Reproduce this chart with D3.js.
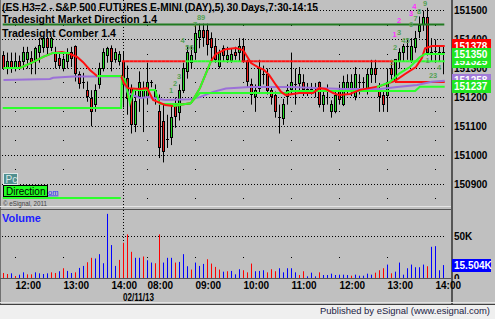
<!DOCTYPE html>
<html><head><meta charset="utf-8">
<script src="https://cdn.jsdelivr.net/npm/d3@7/dist/d3.min.js"></script>
<style>
html,body{margin:0;padding:0;background:#c0c0c0;overflow:hidden}
svg{display:block}
text{font-family:"Liberation Sans",Arial,sans-serif}
</style></head><body>
<svg id="chart" width="495" height="319"></svg>
<script>
// ---------------- data ----------------
const opens=[151345,151300,151325,151300,151325,151325,151330,151335,151330,151355,
151375,151405,151375,151355,151335,151300,151325,151355,151375,151280,
151250,151225,151195,151175,151245,151300,151345,151370,151330,151325,
151325,151265,151230,151105,151200,151200,151200,151250,151200,151150,
151115,151050,151060,151175,151150,151225,151290,151320,151355,151405,
151430,151430,151405,151375,151305,151370,151330,151330,151355,151355,
151375,151325,151245,151205,151230,151280,151280,151225,151205,151130,
151125,151205,151225,151245,151250,151250,151225,151228,151230,151250,
151175,151225,151150,151150,151225,151175,151225,151225,151205,151250,
151250,151225,151280,151300,151225,151205,151205,151300,151255,151325,
151355,151375,151325,151375,151430,151450,151475,151355,151358,151355,151355];
const highs=[151360,151355,151355,151355,151345,151375,151375,151360,151375,151405,
151410,151410,151410,151375,151355,151345,151370,151375,151380,151290,
151285,151255,151225,151245,151320,151370,151375,151380,151370,151360,
151360,151310,151245,151230,151290,151255,151320,151260,151245,151210,
151175,151140,151175,151200,151245,151320,151380,151380,151455,151455,
151455,151455,151425,151405,151365,151380,151375,151370,151375,151405,
151405,151330,151265,151245,151330,151310,151300,151235,151220,151175,
151195,151245,151355,151300,151305,151280,151250,151250,151250,151255,
151225,151245,151190,151220,151245,151275,151280,151280,151305,151280,
151270,151300,151330,151330,151250,151225,151300,151330,151330,151370,
151385,151405,151405,151430,151480,151500,151510,151405,151400,151380,151375];
const lows=[151295,151280,151285,151290,151295,151295,151300,151280,151280,151320,
151355,151345,151360,151300,151300,151290,151300,151305,151255,151230,
151230,151185,151100,151150,151230,151290,151320,151290,151320,151310,
151165,151140,151075,151080,151150,151080,151175,151235,151175,150990,
150975,151025,151035,151095,151120,151215,151265,151300,151330,151370,
151375,151345,151330,151320,151300,151325,151320,151320,151330,151325,
151320,151235,151175,151150,151215,151245,151210,151175,151130,151075,
151105,151175,151210,151175,151220,151205,151205,151210,151200,151165,
151150,151175,151130,151145,151175,151170,151210,151205,151190,151210,
151230,151210,151250,151250,151150,151150,151150,151250,151250,151300,
151325,151330,151320,151355,151405,151430,151345,151325,151320,151325,151280];
const closes=[151300,151325,151300,151325,151300,151355,151355,151320,151370,151380,
151405,151375,151405,151325,151310,151330,151355,151335,151280,151250,
151250,151205,151150,151225,151300,151355,151370,151325,151355,151350,
151245,151195,151105,151185,151250,151225,151250,151248,151225,151025,
151010,151055,151130,151135,151225,151300,151355,151345,151420,151430,
151405,151380,151375,151330,151355,151345,151345,151350,151345,151375,
151325,151255,151210,151225,151300,151275,151225,151205,151150,151125,
151175,151225,151250,151245,151280,151225,151228,151225,151232,151175,
151205,151225,151175,151205,151195,151250,151250,151250,151280,151250,
151248,151280,151300,151280,151205,151175,151250,151280,151330,151355,
151375,151372,151375,151405,151450,151475,151355,151352,151355,151355,151350];

const volumes=[6000,4800,5600,2400,4000,6800,4400,4400,6800,5600,
4800,5600,6800,6000,8100,11700,8500,6000,6800,12100,
14500,18900,24200,23400,28600,17700,76900,39500,14500,21700,
42300,52300,31400,24200,24200,25800,21300,18500,17700,52300,
18500,24200,24200,18500,19300,28600,14100,10100,18500,14500,
16900,22500,17300,13300,10100,7600,8100,
8500,4400,10500,9300,6800,17300,8100,8500,9300,6800,
10500,8100,11700,6800,11700,11700,6800,3600,8100,2000,
6400,2000,6800,3600,3600,5200,3600,4000,4000,3600,
2800,4000,2800,2800,5200,4000,6400,9300,11700,16100,
5600,7600,18500,4000,11700,16100,12900,12900,16100,14100,
37400,38200,9300,15504];
const volumeUp=[0,0,1,0,1,1,0,0,1,1, 1,1,0,0,1,0,1,1,0,1, 1,0,0,1,1,1,1,1,1,0,
0,0,0,1,1,0,1,1,0,0, 1,1,1,0,1,1,1,0,1,1, 1,0,0,0,0,1,0,
1,1,1,0,0,0,1,1,1,0, 0,0,1,1,1,1,1,0,0,1, 1,1,0,1,1,1,1,1,1,1,
0,1,1,1,1,1,0,0,0,1, 0,1,1,1,1,1,1,1,1,0, 1,1,1,1];

const timeLabels=["12:00","13:00","14:00","08:00","09:00","10:00","11:00","12:00","13:00","14:00"];
const timeTickBars=[3,15,27,36,48,60,72,84,96,108];
const dateLabel="02/11/13";
const sessionStartBar=30;
const gridDotBars=[3,15,36,48,60,72,84,96,108];
const priceTicks=[151500,151400,151300,151200,151100,151000,150900];
const priceHalfTicks=[151450,151350,151250,151150,151050,150950,150850];
const volumeTicks=[0,50000];

// indicator lines: [bar, price]
const maRed=[[0,151302],[4.1,151302],[7.4,151322],[9.9,151340],[12.4,151354],[14.6,151357],[16.6,151350],[18.4,151340],[19.9,151322],[21.6,151295],[23.4,151274],[26.6,151274],[29.4,151274],[30.1,151250],[31.1,151232],[34.1,151229],[35.9,151232],[37.4,151191],[40.4,151174],[42.4,151170],[44.1,151174],[46.9,151181],[49.1,151232],[51.9,151326],[53.1,151350],[55.6,151367],[58.1,151371],[59.9,151364],[61.9,151319],[63.6,151305],[65.1,151295],[66.4,151278],[68.1,151243],[69.4,151219],[70.6,151208],[73.9,151215],[77.4,151215],[78.9,151232],[80.6,151229],[82.4,151215],[83.9,151208],[86.6,151212],[89.1,151226],[94.1,151239],[97.9,151257],[100.4,151281],[103.1,151305],[104.6,151336],[105.4,151370],[107.1,151378],[110.3,151378]];
const maGreenA=[[0,151302],[4.1,151302],[7.4,151322],[9.9,151340],[12.4,151354],[16.6,151354]];
const maGreenB=[[23.4,151274],[29.4,151274]];
const maGreenC=[[42.4,151170],[44.1,151174],[46.9,151181],[49.1,151232],[51.9,151326]];
const maGreenD=[[93.4,151236],[96.6,151253],[99.1,151284],[101.6,151305],[104.1,151340],[105.4,151350],[110.3,151350]];
const purpleLine=[[0,151260],[11.6,151264],[12.4,151268],[17.4,151272],[29.4,151272],[30.1,151253],[31.1,151215],[34.1,151198],[36.1,151201],[40.4,151191],[46.6,151194],[49.1,151201],[52.4,151219],[55.6,151231],[61.6,151236],[71.6,151236],[85.1,151229],[94.1,151229],[98.4,151236],[103.4,151243],[107.1,151254],[110.3,151258]];
const stepGreen=[[-0.2,151163],[29.4,151163],[29.6,151271],[30.4,151260],[31.6,151181],[32.6,151226],[37.9,151226],[39.1,151177],[46.6,151177],[49.1,151215],[70.6,151215],[72.1,151222],[102.9,151222],[104.1,151237],[110.3,151237]];
const prevCloseLevel=151325, prevCloseFrom=29.6, prevCloseTo=110.3;
const highLevel=151452, highFrom=-0.2, highTo=110.2;
const openLevel=151253, openFrom=97.9, openTo=110.3;
const lowerLevel=150852, lowerFrom=-0.2, lowerTo=29.3;
const lastVolume=15504;

const countLabels=[["1",41.9,151226,"g"],["2",42.9,151250,"g"],["3",43.9,151274,"g"],["4",44.8,151397,"g"],["56",46.5,151374,"g"],["7",47.9,151453,"g"],["89",49.4,151478,"g"],
["1",97.1,151322,"o"],["1",97.8,151418,"m"],["2",97.9,151374,"g"],["3",98.9,151426,"g"],["2",98.9,151468,"m"],["45",100.5,151397,"g"],["6",101.9,151452,"g"],["3",101.9,151491,"m"],["7",103,151475,"g"],["4",102.7,151516,"m"],["8",103.9,151499,"g"],["9",105.4,151525,"g"],["1",106,151329,"g"],["23",107.4,151277,"g"],["4",108.9,151304,"g"]];

// ---------------- drawing ----------------
const C={bg:"#c0c0c0",up:"#22dd22",dn:"#ee1c1c",line:"#2cff2c",red:"#ff1010",purple:"#9b70d8",dkgreen:"#217a21",blue:"#0000ff",volRed:"#ff0000"};
const svg=d3.select("#chart");
svg.append("rect").attr("width",495).attr("height",319).attr("fill",C.bg);

const x=d3.scaleLinear().domain([0,110]).range([3.5,443.5]);
const y=d3.scaleLinear().domain([150900,151500]).range([184.1,10.7]);
const yv=d3.scaleLinear().domain([0,50000]).range([278,236.3]);
const px=v=>Math.floor(v)+0.5;

const defs=svg.append("defs");
defs.append("clipPath").attr("id","cp").append("rect").attr("x",1).attr("y",0).attr("width",450).attr("height",206);
defs.append("clipPath").attr("id","cv").append("rect").attr("x",1).attr("y",210).attr("width",450).attr("height",68);
defs.append("clipPath").attr("id","cva").append("rect").attr("x",-2).attr("y",210).attr("width",45).attr("height",69);

// grid
const grid=svg.append("g");
grid.selectAll("line.pg").data(priceTicks).join("line").attr("x1",2).attr("x2",446)
 .attr("y1",d=>px(y(d))).attr("y2",d=>px(y(d))).attr("stroke","#000").attr("stroke-dasharray","1,2");
gridDotBars.forEach(b=>{
  priceHalfTicks.forEach(p=>grid.append("rect").attr("x",Math.floor(x(b))).attr("y",Math.floor(y(p))).attr("width",1).attr("height",1).attr("fill","#000"));
  grid.append("rect").attr("x",Math.floor(x(b))).attr("y",Math.floor(yv(25000))).attr("width",1).attr("height",1).attr("fill","#000");
});
grid.append("line").attr("x1",2).attr("x2",446).attr("y1",px(yv(50000))).attr("y2",px(yv(50000))).attr("stroke","#000").attr("stroke-dasharray","1,2");
grid.append("line").attr("x1",x(sessionStartBar)).attr("x2",x(sessionStartBar)).attr("y1",0).attr("y2",278).attr("stroke","#000").attr("stroke-dasharray","1,2");

// candles
const pg=svg.append("g").attr("clip-path","url(#cp)");
const idx=d3.range(opens.length);
pg.selectAll("line.w").data(idx).join("line").attr("x1",i=>x(i)).attr("x2",i=>x(i))
 .attr("y1",i=>y(highs[i])).attr("y2",i=>y(lows[i])).attr("stroke","#000").attr("stroke-width",1);
idx.forEach(i=>{
  const t=y(Math.max(opens[i],closes[i])), b=y(Math.min(opens[i],closes[i]));
  if(b-t<1.5){
    pg.append("line").attr("x1",x(i)-1.5).attr("x2",x(i)+1.5).attr("y1",px(t)).attr("y2",px(t)).attr("stroke","#000");
  } else {
    pg.append("rect").attr("x",x(i)-1).attr("width",2).attr("y",px(t)).attr("height",Math.max(1,Math.round(b-t)))
      .attr("fill",closes[i]>=opens[i]?C.up:C.dn).attr("stroke","#000").attr("stroke-width",1);
  }
});

// indicator lines
const ln=d3.line().x(d=>x(d[0])).y(d=>y(d[1]));
const lg=svg.append("g").attr("clip-path","url(#cp)").attr("fill","none").attr("stroke-width",2);
lg.append("path").attr("d",ln([[highFrom,highLevel],[highTo,highLevel]])).attr("stroke",C.dkgreen);
lg.append("path").attr("d",ln([[lowerFrom,lowerLevel],[lowerTo,lowerLevel]])).attr("stroke",C.line);
for(let i=Math.ceil(prevCloseFrom);i<=110;i++){
  const a=Math.max(prevCloseFrom,i-0.5), b=Math.min(prevCloseTo,i+0.5);
  lg.append("path").attr("d",ln([[a,prevCloseLevel],[b,prevCloseLevel]])).attr("stroke",closes[i]>prevCloseLevel?C.line:C.red);
}
lg.append("path").attr("d",ln([[openFrom,openLevel],[openTo,openLevel]])).attr("stroke",C.red);
lg.append("path").attr("d",ln(purpleLine)).attr("stroke",C.purple);
lg.append("path").attr("d",ln(stepGreen)).attr("stroke",C.line);
lg.append("path").attr("d",ln(maRed)).attr("stroke",C.red);
[maGreenA,maGreenB,maGreenC,maGreenD].forEach(s=>lg.append("path").attr("d",ln(s)).attr("stroke",C.line));

// count labels
const cc={g:"#55a055",m:"#ff30ff",o:"#a88a2a"};
svg.append("g").selectAll("text").data(countLabels).join("text")
 .attr("x",d=>x(d[1])).attr("y",d=>y(d[2])).attr("dy","0.35em").attr("text-anchor","middle")
 .attr("font-size",7.5).attr("font-weight","bold").attr("fill",d=>cc[d[3]]).text(d=>d[0]);

// volume
const vg=svg.append("g").attr("clip-path","url(#cv)");
vg.selectAll("rect").data(idx).join("rect").attr("x",i=>Math.floor(x(i))).attr("width",1)
 .attr("y",i=>yv(volumes[i])).attr("height",i=>yv(0)-yv(volumes[i]))
 .attr("fill",i=>volumeUp[i]?C.blue:C.volRed);

// frames
const fr=svg.append("g");
fr.append("line").attr("x1",0.5).attr("x2",0.5).attr("y1",0).attr("y2",304).attr("stroke","#707070");
fr.append("line").attr("x1",0).attr("x2",452).attr("y1",206.5).attr("y2",206.5).attr("stroke","#e4e4e4");
fr.append("line").attr("x1",0).attr("x2",452).attr("y1",209.5).attr("y2",209.5).attr("stroke","#555");
fr.append("line").attr("x1",0).attr("x2",452).attr("y1",278.5).attr("y2",278.5).attr("stroke","#555");
fr.append("rect").attr("x",451).attr("y",0).attr("width",2).attr("height",305).attr("fill","#555");
fr.append("rect").attr("x",0).attr("y",305).attr("width",495).attr("height",14).attr("fill","#efefef");
fr.append("line").attr("x1",0).attr("x2",495).attr("y1",302.5).attr("y2",302.5).attr("stroke","#e4e4e4");
fr.append("line").attr("x1",0).attr("x2",495).attr("y1",304.5).attr("y2",304.5).attr("stroke","#404040");

// axes
const ya=svg.append("g").attr("transform","translate(452,0)")
 .call(d3.axisRight(y).tickValues(priceTicks).tickSize(0).tickPadding(2).tickFormat(d3.format("d")));
ya.select(".domain").remove();
ya.selectAll("text").attr("font-size",10).attr("font-weight","bold").attr("font-family","Liberation Sans, Arial").attr("fill","#000");
const va=svg.append("g").attr("transform","translate(452,0)").attr("clip-path","url(#cva)")
 .call(d3.axisRight(yv).tickValues(volumeTicks).tickSize(0).tickPadding(2).tickFormat(d=>d?d/1000+"K":"0"));
va.select(".domain").remove();
va.selectAll("text").attr("font-size",10).attr("font-weight","bold").attr("font-family","Liberation Sans, Arial").attr("fill","#000");
const xa=svg.append("g").attr("transform","translate(0,279)")
 .call(d3.axisBottom(x).tickValues(timeTickBars).tickSize(0).tickFormat((d,i)=>timeLabels[i]));
xa.select(".domain").remove();
xa.selectAll("text").attr("text-anchor","start").attr("x",-0.5).attr("y",9.5).attr("dy",0)
 .attr("font-size",10).attr("font-weight","bold").attr("font-family","Liberation Sans, Arial").attr("fill","#000");
svg.append("text").attr("x",x(sessionStartBar)-0.5).attr("y",301).attr("font-size",10).attr("font-weight","bold")
 .attr("textLength",31).attr("lengthAdjust","spacingAndGlyphs").text(dateLabel);

// last-value tags
function tag(v,scale,fill,label){
  const yy=scale(v);
  svg.append("rect").attr("x",452).attr("y",Math.round(yy-6.5)).attr("width",39).attr("height",13).attr("fill",fill);
  svg.append("text").attr("x",454).attr("y",yy).attr("dy","0.36em").attr("font-size",10).attr("font-weight","bold").attr("fill","#fff").text(label);
}
const lastOf=a=>a[a.length-1][1];
tag(prevCloseLevel,y,"#22e622",String(prevCloseLevel));
tag(lastOf(maRed),y,"#ff0000",String(lastOf(maRed)));
tag(lastOf(maGreenD),y,"#22e622",String(lastOf(maGreenD)));
tag(lastOf(purpleLine),y,"#a07ad8",String(lastOf(purpleLine)));
tag(lastOf(stepGreen),y,"#22e622",String(lastOf(stepGreen)));
tag(lastVolume,yv,"#0000ff",d3.format(".3f")(lastVolume/1000)+"K");

// texts
const tx=svg.append("g");
tx.append("text").attr("x",2).attr("y",11).attr("font-size",11).attr("font-weight","bold").attr("textLength",316).attr("lengthAdjust","spacingAndGlyphs")
 .text("(ES H3=2 - S&P 500 FUTURES E-MINI (DAY),5) 30 Days,7:30-14:15");
tx.append("text").attr("x",2).attr("y",23).attr("font-size",10.5).attr("font-weight","bold").attr("textLength",155).attr("lengthAdjust","spacingAndGlyphs")
 .text("Tradesight Market Direction 1.4");
tx.append("text").attr("x",2).attr("y",37).attr("font-size",10.5).attr("font-weight","bold").attr("textLength",114).attr("lengthAdjust","spacingAndGlyphs")
 .text("Tradesight Comber 1.4");
tx.append("rect").attr("x",3.5).attr("y",173.5).attr("width",14).attr("height",11).attr("fill","#4f8f8f").attr("stroke","#dfe8e8");
tx.append("text").attr("x",5.5).attr("y",183).attr("font-size",10).attr("fill","#dde8e8").text("Pc");
tx.append("text").attr("x",48).attr("y",194.5).attr("font-size",7.5).attr("fill","#2222ff").attr("text-decoration","underline").text("om");
tx.append("rect").attr("x",3.5).attr("y",185.5).attr("width",44).attr("height",11).attr("fill","#22ff22").attr("stroke","#000");
tx.append("text").attr("x",6).attr("y",195).attr("font-size",10).attr("fill","#000").text("Direction");
tx.append("text").attr("x",3).attr("y",205.5).attr("font-size",6.5).attr("fill","#444").attr("textLength",44).attr("lengthAdjust","spacingAndGlyphs").text("© eSignal, 2011");
tx.append("text").attr("x",2).attr("y",222).attr("font-size",11).attr("font-weight","bold").attr("fill","#1c1cff").text("Volume");
tx.append("text").attr("x",320).attr("y",313.5).attr("font-size",9.5).attr("fill","#222244").attr("textLength",170).attr("lengthAdjust","spacingAndGlyphs").text("Published by eSignal (www.esignal.com)");
</script>
</body></html>
